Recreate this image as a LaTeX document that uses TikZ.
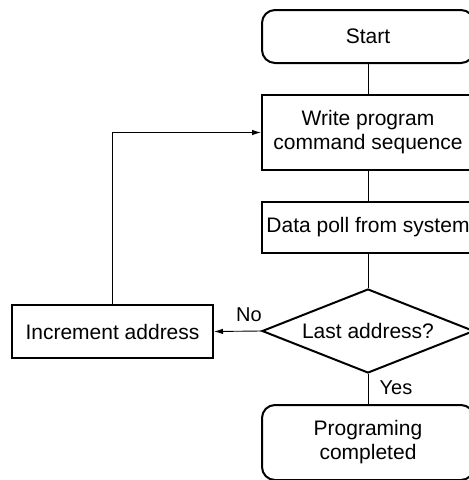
\documentclass[tikz,border=0pt]{standalone}
\usepackage{fontspec}
\setmainfont{Liberation Sans}
\usetikzlibrary{shapes.geometric,arrows.meta}
\begin{document}
\begin{tikzpicture}[x=1pt,y=-1pt,
  every node/.style={font=\fontsize{21}{24}\selectfont, align=center, inner sep=0pt},
  procbox/.style={draw, line width=2pt, minimum width=212pt},
  termbox/.style={draw, line width=2pt, rounded corners=13pt, minimum width=212pt},
  decbox/.style={draw, line width=2pt, diamond, minimum width=212pt, minimum height=84pt, aspect=2.5},
  conn/.style={line width=0.9pt},
  arr/.style={conn, -{Latex[length=9pt,width=5.5pt]}},
  lbl/.style={font=\fontsize{20}{24}\selectfont}]
\clip (0,0) rectangle (469,480);
\node[termbox, minimum height=53pt] (start) at (368,36.5) {Start};
\node[procbox, minimum height=75pt] (write) at (368,132.5) {Write program\\command sequence};
\node[procbox, minimum height=51pt] (poll) at (368,227.5) {Data poll from system};
\node[decbox] (dec) at (368,331) {Last address?};
\node[procbox, minimum width=201pt, minimum height=53pt] (inc) at (112.5,331.5) {Increment address};
\node[termbox, minimum height=75pt] (done) at (368,442.5) {Programing\\completed};
\coordinate (corner) at (inc.north |- write.west);
\draw[conn] (start) -- (write);
\draw[conn] (write) -- (poll);
\draw[conn] (poll) -- (dec);
\draw[conn] (dec) -- (done);
\draw[arr] (dec.west) -- (inc.east);
\draw[arr] (inc.north) -- (corner) -- (write.west);
\node[lbl] (no) at (249,315) {No};
\node[lbl] (yes) at (396,388) {Yes};
\end{tikzpicture}
\end{document}
